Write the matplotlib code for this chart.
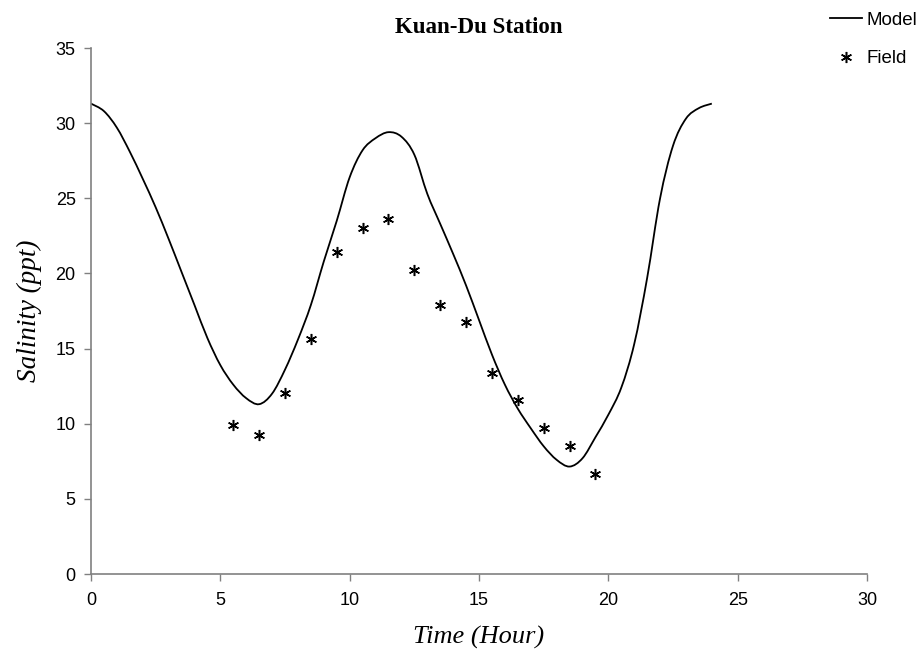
import matplotlib
matplotlib.use("Agg")
import matplotlib.pyplot as plt
from matplotlib.path import Path
from matplotlib.patches import PathPatch
from matplotlib.lines import Line2D

# Model (continuous curve)
model_t = [0, 0.5, 1.0, 1.5, 2.0, 2.5, 3.0, 3.5, 4.0, 4.5, 5.0, 5.5, 6.0, 6.5,
           7.0, 7.5, 8.0, 8.5, 9.0, 9.5, 10.0, 10.5, 11.0, 11.5, 12.0, 12.5,
           13.0, 13.5, 14.0, 14.5, 15.0, 15.5, 16.0, 16.5, 17.0, 17.5, 18.0,
           18.5, 19.0, 19.5, 20.0, 20.5, 21.0, 21.5, 22.0, 22.5, 23.0, 23.5, 24.0]
model_s = [31.3, 30.8, 29.7, 28.1, 26.3, 24.4, 22.3, 20.1, 17.9, 15.7, 13.9, 12.6,
           11.7, 11.3, 12.0, 13.6, 15.6, 17.9, 20.8, 23.5, 26.4, 28.2, 29.0, 29.4,
           29.1, 27.9, 25.3, 23.3, 21.3, 19.2, 16.9, 14.6, 12.6, 11.0, 9.7, 8.5,
           7.6, 7.15, 7.7, 9.1, 10.6, 12.4, 15.3, 19.7, 25.0, 28.5, 30.3, 31.0, 31.3]

# Field observations
field_t = [5.5, 6.5, 7.5, 8.5, 9.5, 10.5, 11.5, 12.5, 13.5, 14.5, 15.5, 16.5, 17.5, 18.5, 19.5]
field_s = [9.9, 9.25, 12.05, 15.65, 21.4, 23.0, 23.6, 20.2, 17.9, 16.8, 13.4, 11.6, 9.7, 8.5, 6.65]

xticks = [0, 5, 10, 15, 20, 25, 30]
yticks = [0, 5, 10, 15, 20, 25, 30, 35]


def smooth_path(xs, ys):
    """Excel-like smoothed line: cubic Bezier segments through the data points."""
    pts = list(zip(xs, ys))
    n = len(pts)
    verts = [pts[0]]
    codes = [Path.MOVETO]
    for i in range(n - 1):
        p0 = pts[i - 1] if i > 0 else pts[i]
        p1 = pts[i]
        p2 = pts[i + 1]
        p3 = pts[i + 2] if i + 2 < n else pts[i + 1]
        c1 = (p1[0] + (p2[0] - p0[0]) / 6.0, p1[1] + (p2[1] - p0[1]) / 6.0)
        c2 = (p2[0] - (p3[0] - p1[0]) / 6.0, p2[1] - (p3[1] - p1[1]) / 6.0)
        verts += [c1, c2, p2]
        codes += [Path.CURVE4, Path.CURVE4, Path.CURVE4]
    return Path(verts, codes)


fig = plt.figure(figsize=(9.21, 6.54), dpi=100)
ax = fig.add_axes([0.0988, 0.1223, 0.9414 - 0.0988, 0.9266 - 0.1223])

ax.add_patch(PathPatch(smooth_path(model_t, model_s), fill=False,
                       edgecolor="black", lw=1.3))
ax.plot(field_t, field_s, linestyle="none", marker=(6, 2, 0), markersize=8,
        markeredgewidth=1.1, color="black")

ax.set_xlim(0, 30)
ax.set_ylim(0, 35)
ax.set_xticks(xticks)
ax.set_yticks(yticks)

for s in ["top", "right"]:
    ax.spines[s].set_visible(False)
for s in ["left", "bottom"]:
    ax.spines[s].set_color("#808080")
    ax.spines[s].set_linewidth(1.2)
ax.tick_params(axis="both", direction="out", length=5, width=1.0, color="#808080",
               labelsize=13, labelcolor="black")
ax.tick_params(axis="x", pad=8)
ax.tick_params(axis="y", pad=6)
for lbl in ax.get_xticklabels() + ax.get_yticklabels():
    lbl.set_fontfamily("Liberation Sans")

ax.set_title("Kuan-Du Station", fontfamily="Liberation Serif", fontweight="bold",
             fontsize=16.5, pad=11)
ax.set_xlabel("Time (Hour)", fontfamily="Liberation Serif", fontstyle="italic",
              fontsize=19, labelpad=12)
ax.set_ylabel("Salinity (ppt)", fontfamily="Liberation Serif", fontstyle="italic",
              fontsize=19.5, labelpad=10)

handles = [Line2D([], [], color="black", lw=1.3),
           Line2D([], [], linestyle="none", marker=(6, 2, 0), markersize=8,
                  markeredgewidth=1.1, color="black")]
fig.legend(handles, ["Model", "Field"], loc="upper left",
           bbox_to_anchor=(0.883, 1.008), frameon=False,
           prop={"family": "Liberation Sans", "size": 13.5},
           labelspacing=1.15, handlelength=1.7, handletextpad=0.25)

fig.savefig("out.png", dpi=100)
